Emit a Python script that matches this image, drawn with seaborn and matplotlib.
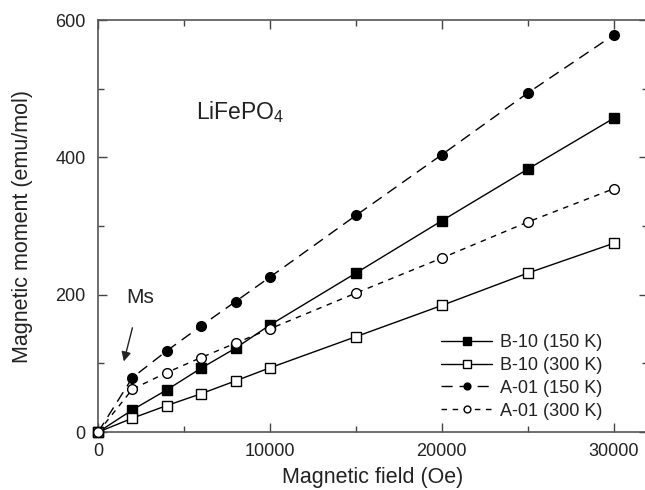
import matplotlib
matplotlib.use("Agg")
import matplotlib.pyplot as plt
from matplotlib.ticker import MultipleLocator
import seaborn as sns
import pandas as pd

sns.set_style("ticks")
plt.rcParams["font.family"] = ["Liberation Sans", "DejaVu Sans"]
plt.rcParams["mathtext.fontset"] = "custom"
plt.rcParams["mathtext.rm"] = "Liberation Sans"
plt.rcParams["mathtext.it"] = "Liberation Sans:italic"

field = [0, 2000, 4000, 6000, 8000, 10000, 15000, 20000, 25000, 30000]
b10_150k = [0, 32.5, 61.6, 93.2, 122.3, 156, 231.6, 307.8, 383, 457]
b10_300k = [0, 20.4, 38.8, 56, 74.7, 93.7, 139, 184.5, 231.6, 275]
a01_150k = [0, 79.5, 118.4, 154.8, 190.2, 225.8, 315.5, 404, 493.8, 578.3]
a01_300k = [0, 62.6, 86.8, 108.7, 129.6, 150.5, 202.5, 253.5, 306, 354.4]

labels = ["B-10 (150 K)", "B-10 (300 K)", "A-01 (150 K)", "A-01 (300 K)"]

df = pd.DataFrame({
    "field": field,
    labels[0]: b10_150k,
    labels[1]: b10_300k,
    labels[2]: a01_150k,
    labels[3]: a01_300k,
})

styles = {
    labels[0]: dict(marker="s", markerfacecolor="black", linestyle="-", markersize=7.5),
    labels[1]: dict(marker="s", markerfacecolor="white", linestyle="-", markersize=7.5),
    labels[2]: dict(marker="o", markerfacecolor="black", linestyle=(0, (8, 5)), markersize=7),
    labels[3]: dict(marker="o", markerfacecolor="white", linestyle=(0, (4, 4)), markersize=7),
}

fig = plt.figure(figsize=(6.45, 4.9), dpi=100)
ax = fig.add_axes([0.152, 0.118, 0.8527, 0.841])

for lab in labels:
    st = styles[lab]
    sns.lineplot(data=df, x="field", y=lab, ax=ax, color="black", lw=1.0,
                 marker=st["marker"], markersize=st["markersize"],
                 markerfacecolor=st["markerfacecolor"], markeredgecolor="black",
                 markeredgewidth=1.0, linestyle=st["linestyle"], label=lab,
                 clip_on=False, zorder=3)

ax.set_xlim(0, 32000)
ax.set_ylim(0, 600)
ax.xaxis.set_major_locator(MultipleLocator(10000))
ax.xaxis.set_minor_locator(MultipleLocator(5000))
ax.yaxis.set_major_locator(MultipleLocator(200))
ax.yaxis.set_minor_locator(MultipleLocator(100))
ax.tick_params(which="both", direction="in", top=True, right=True,
               labelsize=13, colors="#444444", labelcolor="#222222", width=1.0)
ax.tick_params(which="major", length=6.5)
ax.tick_params(which="minor", length=4)
ax.tick_params(axis="y", which="major", pad=9)
ax.tick_params(axis="x", which="major", pad=8)
for sp in ax.spines.values():
    sp.set_color("#555555")
    sp.set_linewidth(1.2)

ax.set_xlabel("Magnetic field (Oe)", fontsize=15.5, color="#222222", labelpad=5)
ax.set_ylabel("Magnetic moment (emu/mol)", fontsize=15.5, color="#222222", labelpad=16)

ax.text(8270, 466, r"LiFePO$_\mathrm{4}$", fontsize=16.5, color="#222222",
        ha="center", va="center")
ax.annotate("Ms", xy=(1500, 103), xytext=(2450, 196), fontsize=15,
            color="#222222", ha="center", va="center",
            arrowprops=dict(arrowstyle="-|>", color="#222222", lw=1.0,
                            shrinkA=13, shrinkB=0, mutation_scale=14))

leg = ax.legend(loc="lower right", bbox_to_anchor=(0.94, 0.0), frameon=False,
                fontsize=13, handlelength=2.8, handletextpad=0.45,
                labelspacing=0.32, borderaxespad=0.3, markerscale=0.7)
for t in leg.get_texts():
    t.set_color("#222222")

fig.savefig("out.png", dpi=100)
